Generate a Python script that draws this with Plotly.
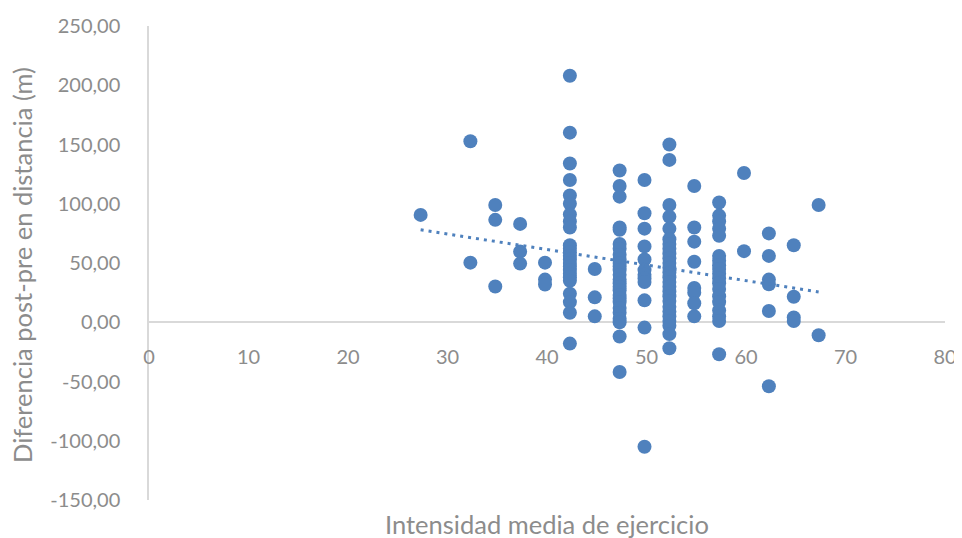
import plotly.graph_objects as go
import numpy as np

# Intensity levels (x) and the post-pre differences observed at each level (y)
x_levels = [27.3, 32.3, 34.8, 37.3, 39.8, 42.3, 44.8, 47.3, 49.8, 52.3, 54.8, 57.3, 59.8, 62.3, 64.8, 67.3]
y_27 = [90.6]
y_32 = [152.7, 50.3]
y_35 = [99, 86.4, 30.2]
y_37 = [83, 59.6, 49.5]
y_40 = [50.3, 36, 31.9]
y_42 = [208, 160, 134, 120, 107, 100, 91, 85, 80, 65, 62, 59, 56, 53, 50, 47, 44, 41, 38, 35, 24, 17, 8, -18]
y_45 = [45, 21, 5]
y_47 = [128, 115, 106, 80, 78, 66, 62, 57, 53, 50, 47, 44, 40, 36, 33, 30, 27, 23, 20, 17, 12, 8, 3, 0, -12, -42]
y_50 = [120, 92, 79, 64, 53, 44, 40, 37, 34, 18.5, -4.5, -105]
y_52 = [150, 137, 99, 89, 79, 70, 66, 62, 58, 54, 50, 46, 42, 38, 34, 30, 26, 22, 18, 13, 9, 5, 1, -3, -10, -22]
y_55 = [115, 80, 68, 51, 29, 25, 16, 5]
y_57 = [101, 90, 85, 79, 73, 56, 52, 48, 45, 41, 37, 33, 28, 22, 17, 10, 5, 1, -27]
y_60 = [126, 60]
y_62 = [75, 56, 36, 32, 9.5, -54]
y_65 = [65, 21.5, 4, 1]
y_67 = [99, -11]

y_groups = [y_27, y_32, y_35, y_37, y_40, y_42, y_45, y_47, y_50, y_52, y_55, y_57, y_60, y_62, y_65, y_67]

x_tick_vals = [0, 10, 20, 30, 40, 50, 60, 70, 80]
y_tick_vals = [-150, -100, -50, 0, 50, 100, 150, 200, 250]
y_tick_text = ["-150,00", "-100,00", "-50,00", "0,00", "50,00", "100,00", "150,00", "200,00", "250,00"]

x_title = "Intensidad media de ejercicio"
y_title = "Diferencia post-pre en distancia (m)"

xs = []
ys = []
for xv, grp in zip(x_levels, y_groups):
    xs.extend([xv] * len(grp))
    ys.extend(grp)
xs = np.array(xs, dtype=float)
ys = np.array(ys, dtype=float)

slope, intercept = np.polyfit(xs, ys, 1)
tx = np.array([xs.min(), xs.max()])
ty = slope * tx + intercept

blue = "#4f81bd"
gray = "#8c8c8c"
font_family = "Lato, 'Open Sans', sans-serif"

fig = go.Figure()
fig.add_trace(go.Scatter(
    x=xs, y=ys, mode="markers",
    marker=dict(color=blue, size=14, line=dict(width=0)),
    hoverinfo="skip", showlegend=False,
))
fig.add_trace(go.Scatter(
    x=tx, y=ty, mode="lines",
    line=dict(color=blue, width=3, dash="3px,5px"),
    hoverinfo="skip", showlegend=False,
))

fig.update_layout(
    width=954, height=530,
    margin=dict(l=141, r=17, t=18, b=38),
    paper_bgcolor="white", plot_bgcolor="white",
    font=dict(family=font_family, color=gray, size=20),
    xaxis=dict(
        range=[0, 80], tickvals=x_tick_vals, ticktext=[str(v) for v in x_tick_vals],
        showgrid=False, zeroline=False, showline=False, automargin=False,
        anchor="free", position=0.375, ticklabelstandoff=21,
        tickfont=dict(size=20, color=gray),
    ),
    yaxis=dict(
        range=[-150, 250], tickvals=y_tick_vals, ticktext=y_tick_text,
        showgrid=False, zeroline=True, zerolinecolor="#d9d9d9", zerolinewidth=1.5,
        showline=True, linecolor="#d9d9d9", linewidth=1.5, automargin=False,
        ticklabelstandoff=23,
        tickfont=dict(size=20, color=gray),
    ),
    annotations=[
        dict(text=x_title, xref="paper", yref="paper", x=0.5, y=-0.0506,
             yanchor="middle", xanchor="center", showarrow=False,
             font=dict(size=25.5, color=gray)),
        dict(text=y_title, xref="paper", yref="paper", x=-0.1595, y=0.496,
             xanchor="center", yanchor="middle", textangle=-90, showarrow=False,
             font=dict(size=25.5, color=gray)),
    ],
)

fig.write_html("out.html")
